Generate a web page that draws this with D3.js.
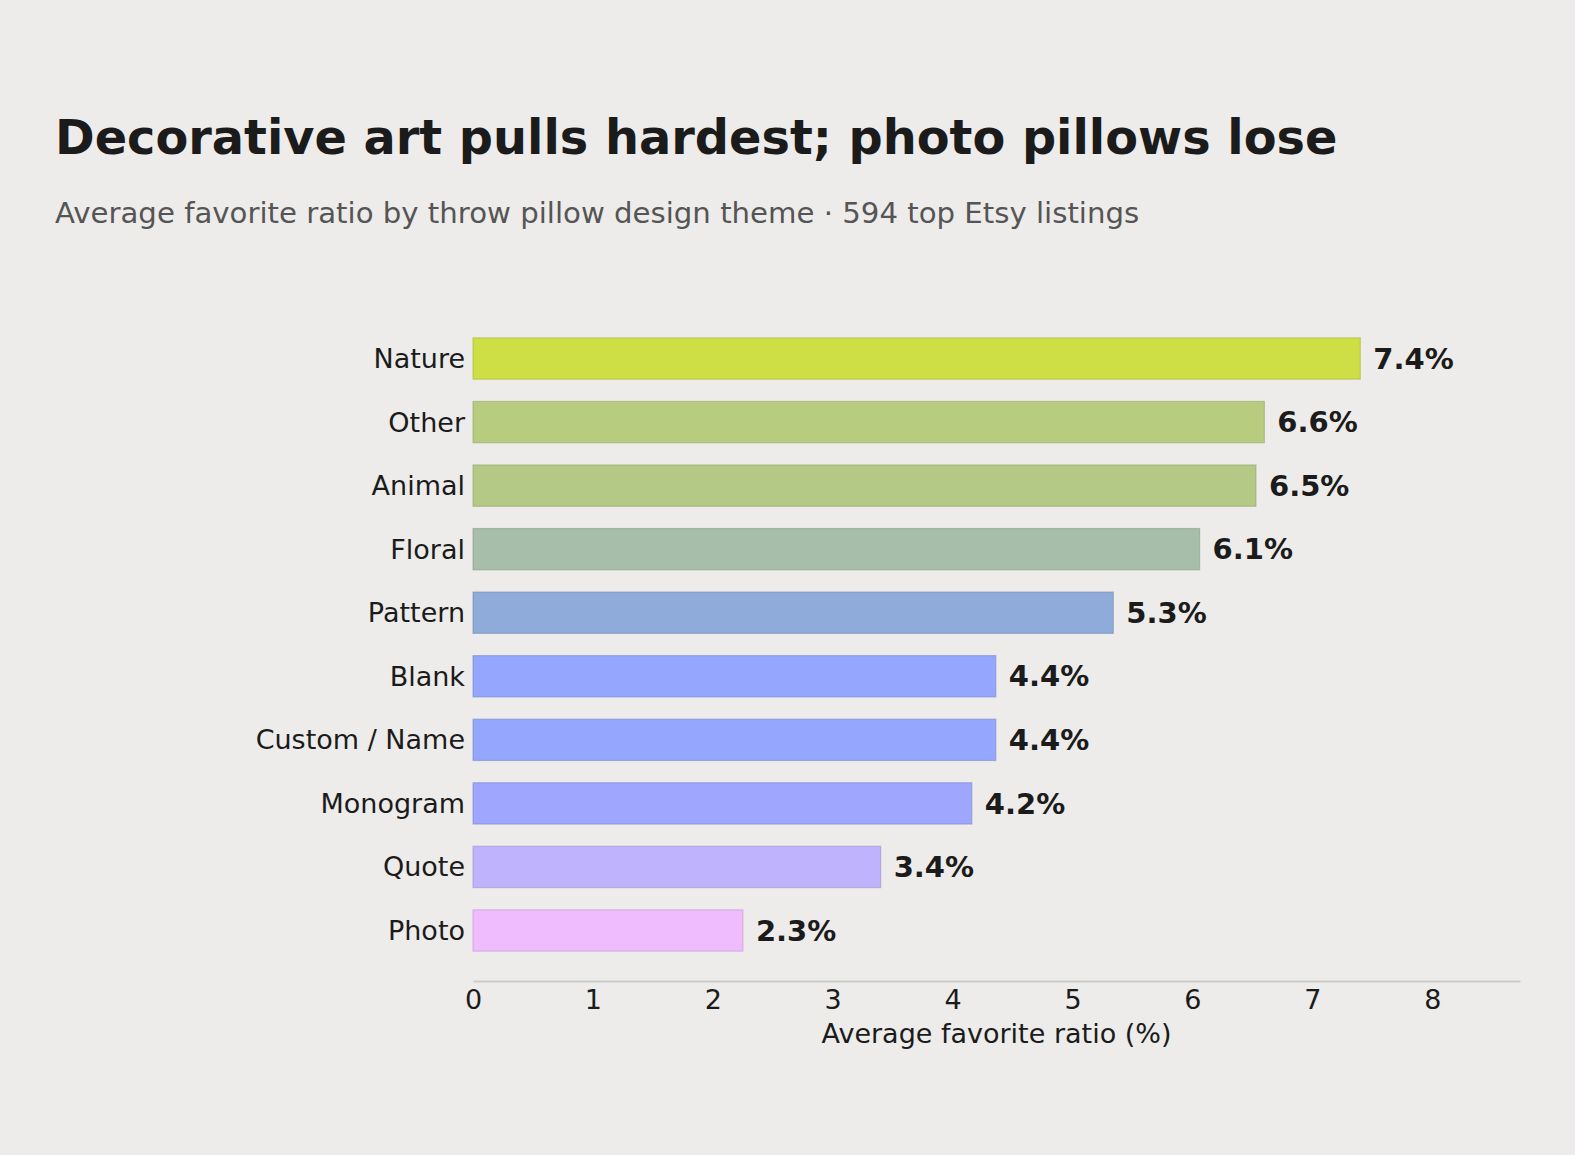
<!DOCTYPE html>
<html>
<head>
<meta charset="utf-8">
<script src="https://cdn.jsdelivr.net/npm/d3@7"></script>
<style>
  body { margin: 0; background: #edecea; }
  svg { font-family: "DejaVu Sans", sans-serif; }
</style>
</head>
<body>
<div id="chart"></div>
<script>
// design themes, top to bottom
var themes = ["Nature", "Other", "Animal", "Floral", "Pattern", "Blank",
              "Custom / Name", "Monogram", "Quote", "Photo"];
// average favorite ratio (%)
var ratios = [7.40, 6.60, 6.53, 6.06, 5.34, 4.36, 4.36, 4.16, 3.40, 2.251];
var barColours = ["#cddf45", "#b8cc80", "#b3c985", "#a6beaa", "#8fabda",
                  "#94a6fd", "#94a6fd", "#9ea6fd", "#c0b3fd", "#efbdfd"];
var xTicks = [0, 1, 2, 3, 4, 5, 6, 7, 8];

var width = 1575, height = 1155,
    margin = { top: 308, right: 55, bottom: 174, left: 473 };

var data = themes.map((t, i) => ({ name: t, value: ratios[i], colour: barColours[i] }));

const svg = d3.select("#chart").append("svg")
  .attr("width", width)
  .attr("height", height);

svg.append("rect")
  .attr("width", width).attr("height", height)
  .attr("fill", "#edecea");

svg.append("text")
  .attr("x", 55).attr("y", 154)
  .style("font-size", "47.8px").style("font-weight", "bold")
  .attr("fill", "#1b1b1b")
  .text("Decorative art pulls hardest; photo pillows lose");

svg.append("text")
  .attr("x", 55).attr("y", 223)
  .style("font-size", "29.2px")
  .attr("fill", "#555555")
  .text("Average favorite ratio by throw pillow design theme \u00b7 594 top Etsy listings");

let x = d3.scaleLinear()
  .domain([0, d3.max(ratios) * 1.18])
  .range([margin.left, width - margin.right]);

let y = d3.scaleBand()
  .domain(themes)
  .range([margin.top, height - margin.bottom])
  .paddingInner(0.35)
  .paddingOuter(0.47);

// bars
svg.selectAll("rect.bar")
  .data(data)
  .enter()
  .append("rect")
  .attr("class", "bar")
  .attr("x", x(0))
  .attr("y", d => y(d.name))
  .attr("width", d => x(d.value) - x(0))
  .attr("height", y.bandwidth())
  .attr("fill", d => d.colour)
  .attr("stroke", d => d3.color(d.colour).darker(0.6))
  .attr("stroke-opacity", 0.55)
  .attr("stroke-width", 1.2);

// value labels
svg.selectAll("text.valueLabel")
  .data(data)
  .enter()
  .append("text")
  .attr("class", "valueLabel")
  .attr("x", d => x(d.value) + 13)
  .attr("y", d => y(d.name) + y.bandwidth() / 2)
  .attr("dy", "0.35em")
  .style("font-size", "29px").style("font-weight", "bold")
  .attr("fill", "#1b1b1b")
  .text(d => d.value.toFixed(1) + "%");

// category labels
svg.selectAll("text.catLabel")
  .data(data)
  .enter()
  .append("text")
  .attr("class", "catLabel")
  .attr("x", x(0) - 8)
  .attr("y", d => y(d.name) + y.bandwidth() / 2)
  .attr("dy", "0.35em")
  .style("text-anchor", "end")
  .style("font-size", "27px")
  .attr("fill", "#1b1b1b")
  .text(d => d.name);

// x axis
let xAxis = d3.axisBottom(x)
  .tickValues(xTicks)
  .tickSize(0)
  .tickPadding(9)
  .tickFormat(d3.format("d"));

let axisG = svg.append("g")
  .attr("transform", `translate(0, ${height - margin.bottom})`)
  .call(xAxis);

axisG.select(".domain")
  .attr("stroke", "#cccccc")
  .attr("stroke-width", 2);

axisG.selectAll(".tick text")
  .style("font-size", "27px")
  .style("font-family", "'DejaVu Sans', sans-serif")
  .attr("fill", "#1b1b1b");

svg.append("text")
  .attr("x", (x.range()[0] + x.range()[1]) / 2)
  .attr("y", 1043)
  .style("text-anchor", "middle")
  .style("font-size", "27px")
  .attr("fill", "#1b1b1b")
  .text("Average favorite ratio (%)");
</script>
</body>
</html>
